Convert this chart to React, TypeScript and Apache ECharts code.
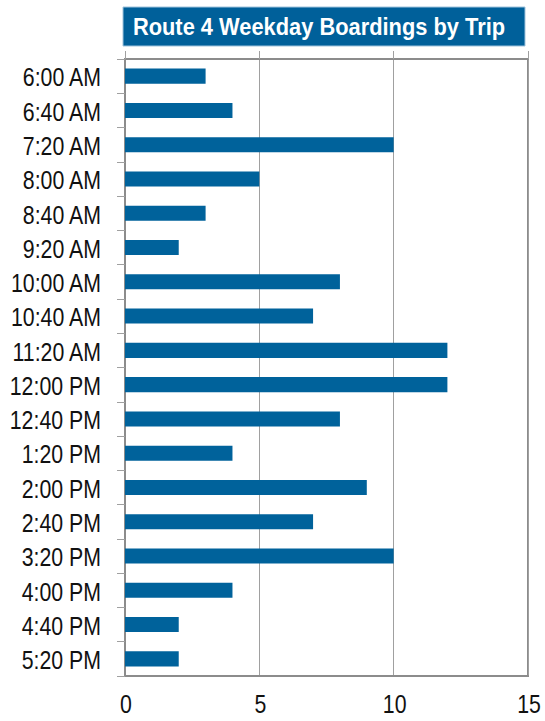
import React, { useEffect, useRef } from "react";
import * as echarts from "echarts";

const titleText = "Route 4 Weekday Boardings by Trip";
const trips = [
  "6:00 AM", "6:40 AM", "7:20 AM", "8:00 AM", "8:40 AM", "9:20 AM",
  "10:00 AM", "10:40 AM", "11:20 AM", "12:00 PM", "12:40 PM", "1:20 PM",
  "2:00 PM", "2:40 PM", "3:20 PM", "4:00 PM", "4:40 PM", "5:20 PM",
];
const boardings = [3, 4, 10, 5, 3, 2, 8, 7, 12, 12, 8, 4, 9, 7, 10, 4, 2, 2];
const xTicks = [0, 5, 10, 15];
const xMin = 0;
const xMax = 15;
const xStep = 5;

const BLUE = "#00629B";
const GRAY = "#8c8c8c";
const FONT = "'Liberation Sans', Arial, sans-serif";
const NARROW = 0.82;

export default function App() {
  const ref = useRef<HTMLDivElement>(null);
  useEffect(() => {
    if (!ref.current) return;
    const chart = echarts.init(ref.current, null, { renderer: "svg" });
    const titleGraphics: any[] = [
      {
        id: "titleBox",
        type: "rect",
        shape: { x: 123, y: 7, width: 402, height: 39 },
        style: { fill: "#00609A", stroke: "#9fc3dc", lineWidth: 1 },
      },
      {
        id: "titleText",
        type: "text",
        x: 319,
        y: 27,
        scaleX: 0.95,
        style: {
          text: titleText,
          fill: "#ffffff",
          font: `bold 23px ${FONT}`,
          align: "center",
          verticalAlign: "middle",
        },
      },
    ];
    chart.setOption({
      animation: false,
      backgroundColor: "#ffffff",
      grid: {
        left: 125,
        right: 17,
        top: 59,
        bottom: 45,
        show: true,
        borderColor: GRAY,
        borderWidth: 2,
      },
      graphic: titleGraphics,
      xAxis: [
        {
          type: "value",
          position: "bottom",
          min: xMin,
          max: xMax,
          interval: xStep,
          axisLine: { show: true, lineStyle: { color: GRAY, width: 2 } },
          axisTick: { show: false },
          axisLabel: { show: false },
          splitLine: { show: true, lineStyle: { color: "#a0a0a0", width: 1 } },
        },
        {
          type: "value",
          position: "top",
          min: xMin,
          max: xMax,
          interval: xStep,
          axisLine: { show: true, lineStyle: { color: GRAY, width: 2 } },
          axisTick: { show: true, inside: false, length: 8, lineStyle: { color: "#a0a0a0", width: 1 } },
          axisLabel: { show: false },
          splitLine: { show: false },
        },
      ],
      yAxis: {
        type: "category",
        data: trips,
        inverse: true,
        axisLine: { show: true, lineStyle: { color: GRAY, width: 2 } },
        axisTick: { show: true, length: 8, lineStyle: { color: "#a0a0a0", width: 1 } },
        axisLabel: { show: false },
        splitLine: { show: false },
      },
      series: [
        {
          type: "bar",
          xAxisIndex: 0,
          data: boardings,
          barWidth: "44%",
          itemStyle: { color: BLUE },
        },
      ],
    });

    // Condensed (Arial Narrow-like) axis labels placed through the axes' own scales
    const yLabels = trips.map((t, i) => {
      const py = chart.convertToPixel({ yAxisIndex: 0 }, t) as number;
      return {
        id: "ylab" + i,
        type: "text",
        x: 101,
        y: py + 1,
        scaleX: NARROW,
        style: {
          text: t,
          fill: "#111111",
          font: `26px ${FONT}`,
          align: "right",
          verticalAlign: "middle",
        },
      };
    });
    const lastCatY = chart.convertToPixel({ yAxisIndex: 0 }, trips[trips.length - 1]) as number;
    const xLabels = xTicks.map((v, i) => {
      const px = chart.convertToPixel({ xAxisIndex: 0 }, v) as number;
      return {
        id: "xlab" + i,
        type: "text",
        x: px + 1,
        y: lastCatY + 45,
        scaleX: NARROW,
        style: {
          text: String(v),
          fill: "#111111",
          font: `26px ${FONT}`,
          align: "center",
          verticalAlign: "middle",
        },
      };
    });
    chart.setOption({ graphic: [...titleGraphics, ...yLabels, ...xLabels] });
    return () => chart.dispose();
  }, []);
  return <div ref={ref} style={{ width: 545, height: 721, position: "absolute", left: 0, top: 0 }} />;
}
